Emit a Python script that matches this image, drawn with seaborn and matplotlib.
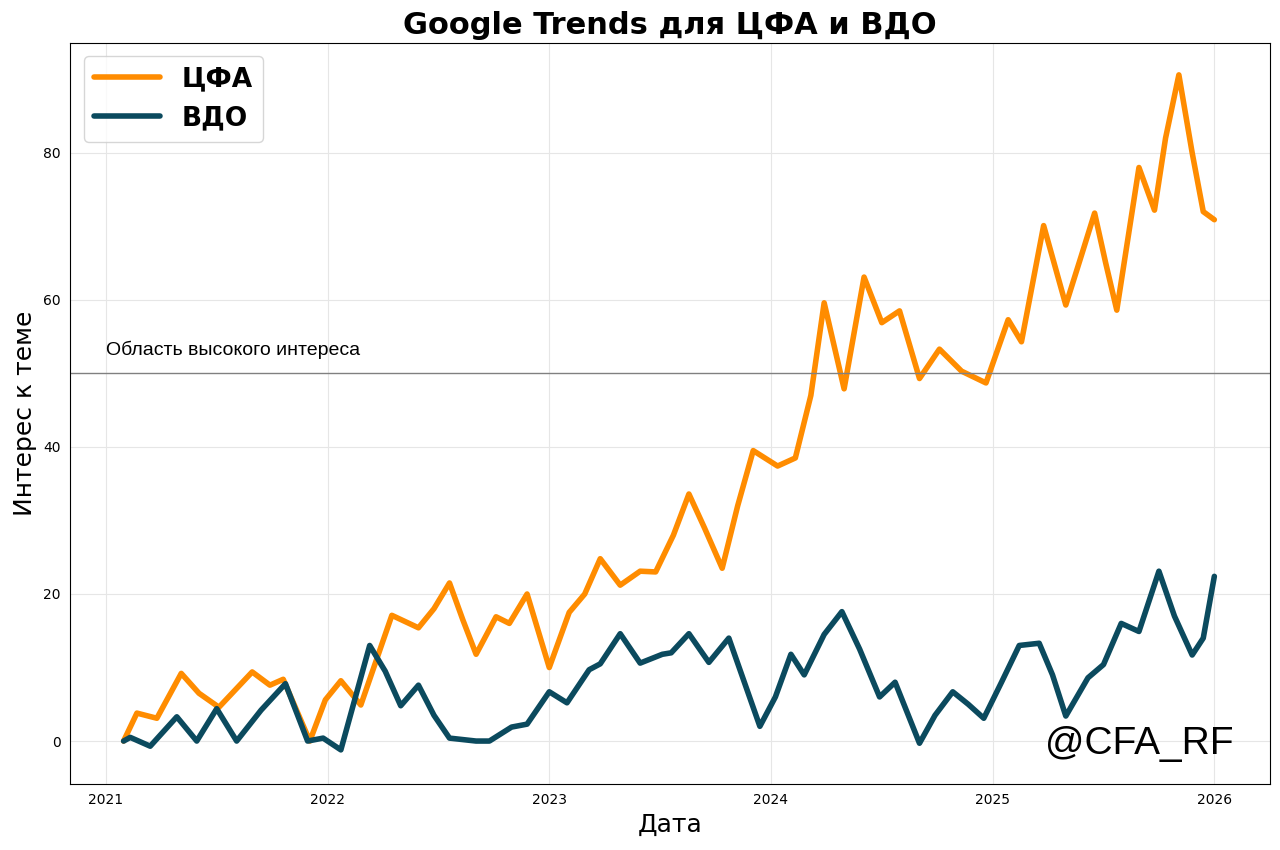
import matplotlib
matplotlib.use("Agg")
import matplotlib.pyplot as plt
import seaborn as sns

cfa_t = [2021.08,2021.14,2021.23,2021.34,2021.42,2021.51,2021.66,2021.74,2021.80,2021.92,2021.99,2022.06,2022.15,2022.29,2022.41,2022.48,2022.55,2022.61,2022.67,2022.76,2022.82,2022.90,2023.00,2023.09,2023.16,2023.23,2023.32,2023.41,2023.48,2023.56,2023.63,2023.70,2023.78,2023.85,2023.92,2024.03,2024.11,2024.18,2024.24,2024.33,2024.42,2024.50,2024.58,2024.67,2024.76,2024.86,2024.97,2025.07,2025.13,2025.23,2025.33,2025.40,2025.46,2025.51,2025.56,2025.66,2025.73,2025.78,2025.84,2025.90,2025.95,2026.0]
cfa_v = [0,3.8,3.1,9.2,6.5,4.6,9.4,7.6,8.4,0,5.6,8.2,4.9,17.1,15.4,18,21.5,16.5,11.8,16.9,16,20,10,17.5,20,24.8,21.2,23.1,23,28,33.6,29,23.5,32,39.5,37.4,38.5,47,59.6,47.9,63.1,56.9,58.5,49.3,53.3,50.3,48.7,57.3,54.3,70.1,59.3,66,71.8,65,58.6,78,72.2,82,90.6,80,72,70.9]
vdo_t = [2021.08,2021.11,2021.20,2021.32,2021.41,2021.50,2021.59,2021.70,2021.81,2021.91,2021.98,2022.06,2022.19,2022.26,2022.33,2022.41,2022.48,2022.55,2022.67,2022.73,2022.83,2022.90,2023.00,2023.08,2023.18,2023.23,2023.32,2023.41,2023.51,2023.55,2023.63,2023.72,2023.81,2023.88,2023.95,2024.02,2024.09,2024.15,2024.24,2024.32,2024.40,2024.49,2024.56,2024.67,2024.74,2024.82,2024.89,2024.96,2025.04,2025.12,2025.21,2025.27,2025.33,2025.43,2025.50,2025.58,2025.66,2025.75,2025.82,2025.90,2025.95,2026.0]
vdo_v = [0,0.5,-0.7,3.3,0,4.4,0,4.2,7.8,0,0.4,-1.2,13,9.5,4.8,7.6,3.5,0.4,0,0,1.9,2.3,6.7,5.2,9.7,10.5,14.6,10.6,11.8,12,14.6,10.7,14,8,2,6,11.8,9,14.5,17.6,12.5,6,8,-0.3,3.5,6.7,5,3.1,8,13,13.3,9,3.4,8.6,10.4,16,14.9,23.1,17,11.7,14,22.4]
years = [2021,2022,2023,2024,2025,2026]

sns.set_style("whitegrid")
plt.rcParams["text.color"] = "black"
plt.rcParams["xtick.color"] = "black"
plt.rcParams["ytick.color"] = "black"
plt.rcParams["axes.labelcolor"] = "black"
fig, ax = plt.subplots(figsize=(12.8, 8.5), dpi=100)
sns.lineplot(x=cfa_t, y=cfa_v, ax=ax, color="#FF8C00", lw=4, label="ЦФА", sort=False)
sns.lineplot(x=vdo_t, y=vdo_v, ax=ax, color="#0B4A5E", lw=4, label="ВДО", sort=False)
for l in ax.lines:
    l.set_solid_joinstyle("round")
    l.set_solid_capstyle("round")
ax.axhline(50, color="gray", lw=1)
ax.text(2021.0, 52.5, "Область высокого интереса", fontsize=14, family="Liberation Sans")
ax.text(0.97, 0.04, "@CFA_RF", transform=ax.transAxes, ha="right", fontsize=28, family="Liberation Sans")
ax.set_xticks(years)
ax.set_xticklabels([str(y) for y in years])
ax.set_xlim(2020.84, 2026.25)
ax.set_ylim(-5.8, 95)
ax.set_yticks([0, 20, 40, 60, 80])
ax.grid(True, color="#e6e6e6")
for s in ax.spines.values():
    s.set_edgecolor("black")
ax.set_title("Google Trends для ЦФА и ВДО", fontsize=22, fontweight="bold", color="black")
ax.set_xlabel("Дата", fontsize=18)
ax.set_ylabel("Интерес к теме", fontsize=18)
leg = ax.legend(loc="upper left", prop={"size": 19, "weight": "bold"}, handlelength=2.5)
plt.subplots_adjust(left=0.055, right=0.992, top=0.95, bottom=0.078)
fig.savefig("out.png")
